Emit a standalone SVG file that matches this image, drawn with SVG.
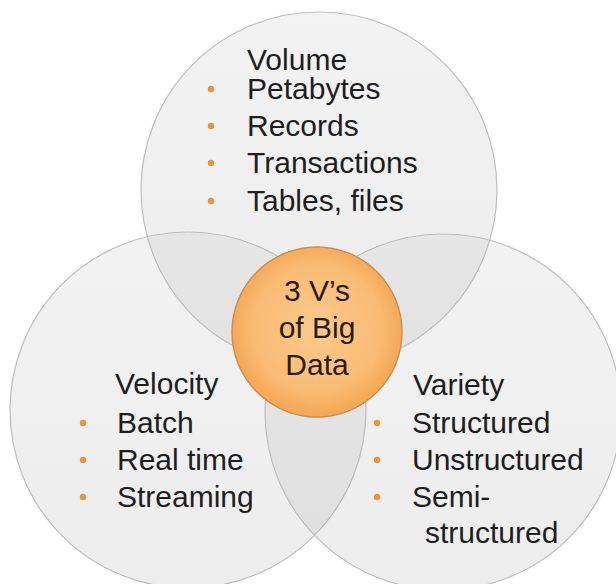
<svg xmlns="http://www.w3.org/2000/svg" width="616" height="584" viewBox="0 0 616 584">
  <defs>
    <linearGradient id="gray" x1="0" y1="0" x2="0" y2="1">
      <stop offset="0" stop-color="#c4c4c4"/>
      <stop offset="1" stop-color="#a8a8aa"/>
    </linearGradient>
    <radialGradient id="orange" cx="0.5" cy="0.48" r="0.5">
      <stop offset="0" stop-color="#fbc98c"/>
      <stop offset="0.75" stop-color="#f9bb74"/>
      <stop offset="1" stop-color="#f4a956"/>
    </radialGradient>
    <style>
      .set { fill: url(#gray); fill-opacity: 0.21; stroke: #bdbdbd; stroke-width: 1.2; }
      .core { fill: url(#orange); stroke: #c98d4c; stroke-width: 1.4; }
      .t { font-family: "Liberation Sans", Arial, sans-serif; font-size: 30px; fill: #1e1e1e; }
      .c { text-anchor: middle; fill: #2a1d10; }
      .b { fill: #e9953a; }
    </style>
  </defs>
  <rect width="616" height="584" fill="#ffffff"/>

  <g id="volume">
    <circle class="set" cx="319" cy="190" r="178"/>
    <text class="t" x="247" y="70">Volume</text>
    <circle class="b" cx="211" cy="89" r="3.2"/>
    <circle class="b" cx="211" cy="126" r="3.2"/>
    <circle class="b" cx="211" cy="163" r="3.2"/>
    <circle class="b" cx="211" cy="201" r="3.2"/>
    <text class="t" x="247" y="99">Petabytes</text>
    <text class="t" x="247" y="136">Records</text>
    <text class="t" x="247" y="173">Transactions</text>
    <text class="t" x="247" y="211">Tables, files</text>
  </g>

  <g id="velocity">
    <circle class="set" cx="188" cy="410" r="178"/>
  </g>

  <g id="variety">
    <circle class="set" cx="443" cy="412" r="178"/>
  </g>

  <g id="velocity-text">
    <text class="t" x="115" y="394">Velocity</text>
    <circle class="b" cx="83" cy="423" r="3.2"/>
    <circle class="b" cx="83" cy="460" r="3.2"/>
    <circle class="b" cx="83" cy="497" r="3.2"/>
    <text class="t" x="117" y="433">Batch</text>
    <text class="t" x="117" y="470">Real time</text>
    <text class="t" x="117" y="507">Streaming</text>
  </g>

  <g id="variety-text">
    <text class="t" x="413" y="395">Variety</text>
    <circle class="b" cx="377" cy="423" r="3.2"/>
    <circle class="b" cx="377" cy="460" r="3.2"/>
    <circle class="b" cx="377" cy="497" r="3.2"/>
    <text class="t" x="412" y="433">Structured</text>
    <text class="t" x="412" y="470">Unstructured</text>
    <text class="t" x="412" y="507">Semi-</text>
    <text class="t" x="425" y="543">structured</text>
  </g>

  <g id="center">
    <circle class="core" cx="317" cy="332" r="85"/>
    <text class="t c" x="317" y="301">3 V’s</text>
    <text class="t c" x="317" y="338">of Big</text>
    <text class="t c" x="317" y="375">Data</text>
  </g>
</svg>
